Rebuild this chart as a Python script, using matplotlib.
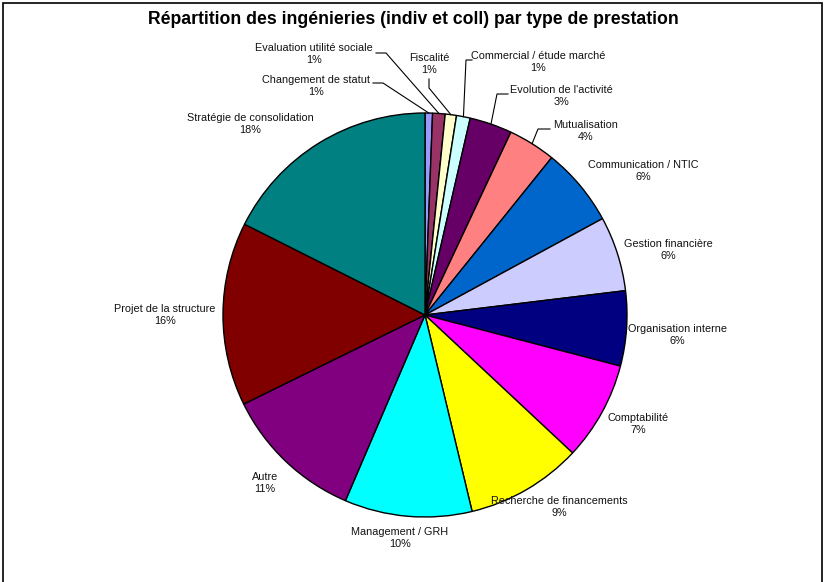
import numpy as np
import matplotlib
matplotlib.use("Agg")
import matplotlib.pyplot as plt
from matplotlib.patches import Rectangle

categories = ["Changement de statut", "Evaluation utilité sociale", "Fiscalité",
              "Commercial / étude marché", "Evolution de l'activité", "Mutualisation",
              "Communication / NTIC", "Gestion financière", "Organisation interne",
              "Comptabilité", "Recherche de financements", "Management / GRH",
              "Autre", "Projet de la structure", "Stratégie de consolidation"]
values = [0.6, 1.0, 0.9, 1.1, 3.4, 3.8, 6.3, 6.0, 6.0, 7.9, 9.3, 10.2, 11.3, 14.7, 17.6]
pct_labels = ["1%", "1%", "1%", "1%", "3%", "4%", "6%", "6%", "6%", "7%", "9%", "10%",
              "11%", "16%", "18%"]
colors = ["#9999FF", "#993366", "#FFFFCC", "#CCFFFF", "#660066", "#FF8080",
          "#0066CC", "#CCCCFF", "#000080", "#FF00FF", "#FFFF00", "#00FFFF",
          "#800080", "#800000", "#008080"]
title = "Répartition des ingénieries (indiv et coll) par type de prestation"

W, H = 827, 582
fig = plt.figure(figsize=(W / 100, H / 100), dpi=100)
ax = fig.add_axes([0, 0, 1, 1])
ax.set_xlim(0, W)
ax.set_ylim(0, H)
ax.axis("off")

def Y(y):
    return H - y

cx, cy, R = 425, Y(315), 202
wedges, _ = ax.pie(values, colors=colors, startangle=90, counterclock=False,
                   center=(cx, cy), radius=R, normalize=True,
                   wedgeprops=dict(edgecolor="black", linewidth=1.0))
ax.set_xlim(0, W)
ax.set_ylim(0, H)
ax.set_aspect("equal")

# label layout (pixel positions of text centres)
label_pos = [(316, 86), (314, 54), (429, 64), (538, 62), (561, 96), (586, 131),
             (643, 171), (668, 250), (677, 335), (638, 424), (559, 507), (400, 538),
             (265, 483), (165, 315), (250, 124)]
# leader lines: (start, elbow) on the label side; end is the wedge mid-point on the arc
leaders = {0: ((373, 83), (383, 83)), 1: ((376, 53), (386, 53)),
           2: ((429, 79), (429, 88)), 3: ((472, 60), (466, 60)),
           4: ((508, 94), (497, 94)), 5: ((550, 129), (538, 129))}

font = "Liberation Sans"
for i, (cat, p) in enumerate(zip(categories, pct_labels)):
    x, y = label_pos[i]
    ax.text(x, Y(y), f"{cat}\n{p}", ha="center", va="center", fontsize=7.8,
            family=font, color="#111111", linespacing=1.3)
    if i in leaders:
        w = wedges[i]
        mid = np.deg2rad((w.theta1 + w.theta2) / 2)
        ex, ey = cx + R * np.cos(mid), cy + R * np.sin(mid)
        (x0, y0), (x1, y1) = leaders[i]
        ax.plot([x0, x1, ex], [Y(y0), Y(y1), ey], color="black", lw=0.8,
                solid_joinstyle="miter")

ax.text(413, Y(20), title, ha="center", va="center", fontsize=12.7,
        fontweight="bold", family=font)

frame = Rectangle((3, -10), 819, Y(3) + 10, fill=False, edgecolor="black", lw=1.2)
ax.add_patch(frame)

fig.savefig("out.png", dpi=100)
